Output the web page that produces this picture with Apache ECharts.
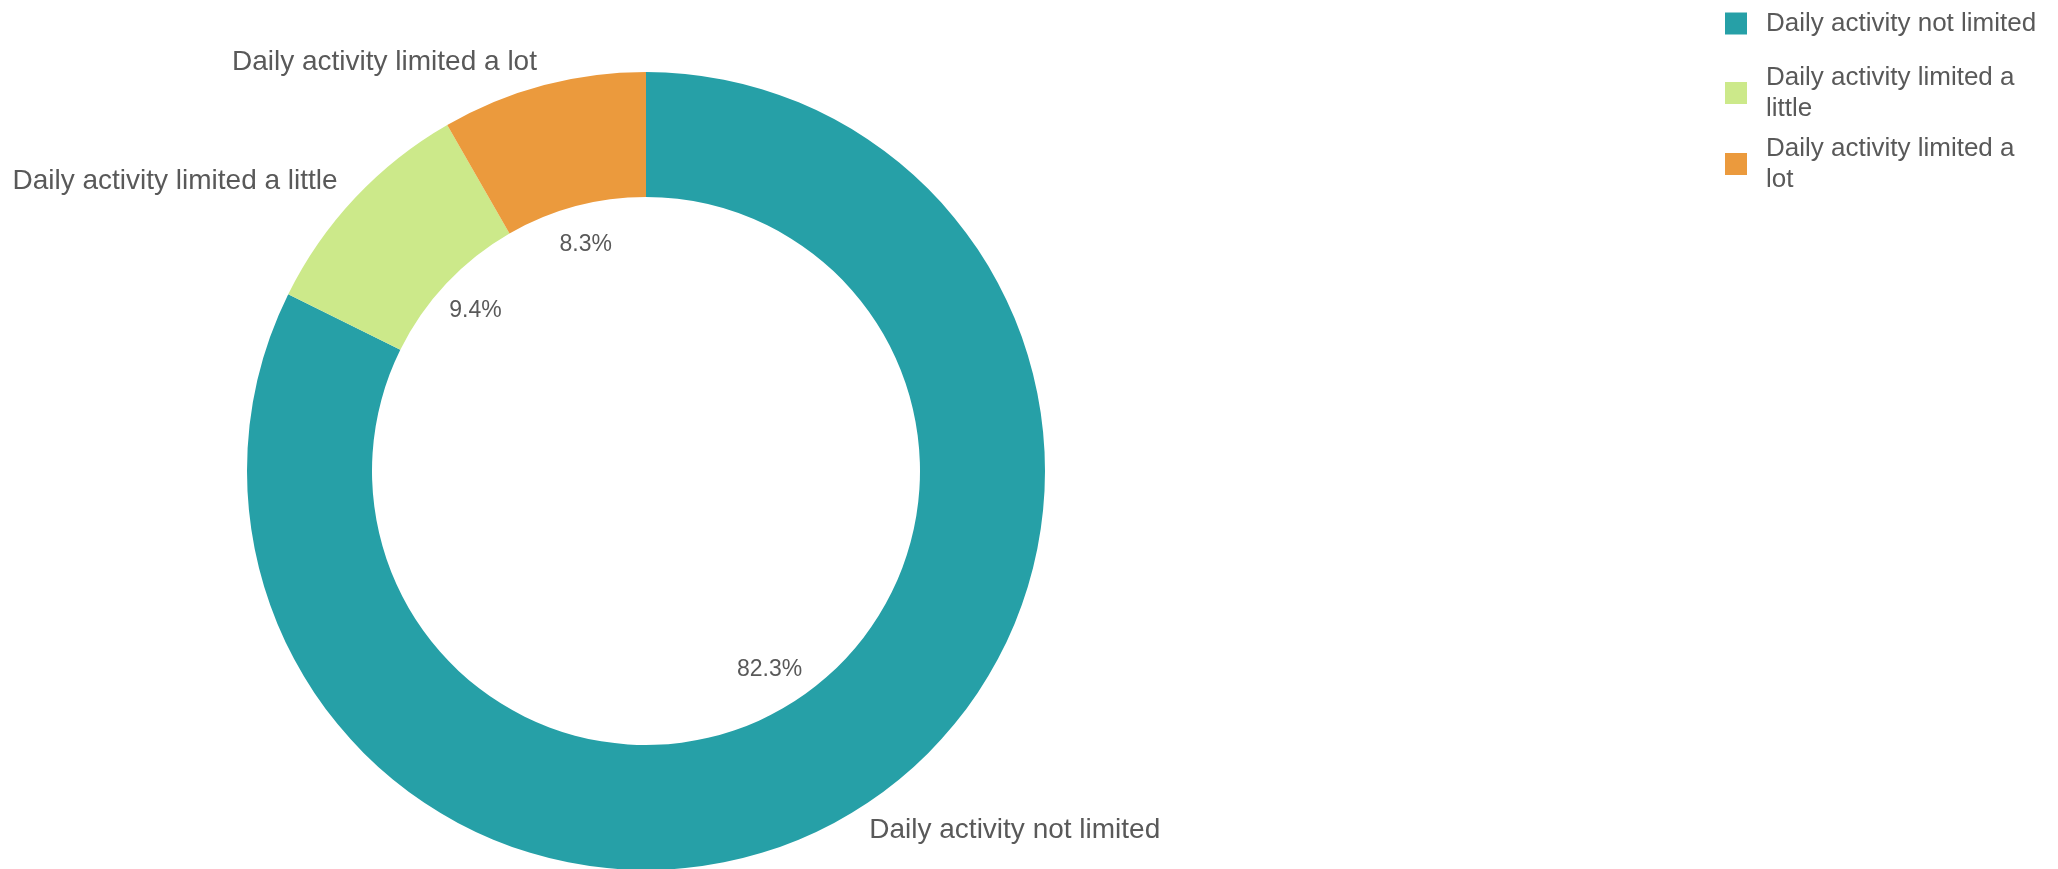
<!DOCTYPE html>
<html>
<head>
<meta charset="utf-8">
<script src="https://cdn.jsdelivr.net/npm/echarts@6/dist/echarts.min.js"></script>
<style>
html,body{margin:0;padding:0;background:#fff;}
#chart{width:2058px;height:869px;}
</style>
</head>
<body>
<div id="chart"></div>
<script>
const categories = ['Daily activity not limited', 'Daily activity limited a little', 'Daily activity limited a lot'];
const percentValues = [82.3, 9.4, 8.3];
const sliceColors = ['#26a0a7', '#cce98a', '#eb9a3d'];

const FONT = '"Liberation Sans", Arial, sans-serif';
const TEXT = '#595959';

const pieData = categories.map((name, i) => ({
  name: name,
  value: percentValues[i],
  itemStyle: { color: sliceColors[i] }
}));

function makeLegend(idx, top) {
  return {
    show: true,
    orient: 'vertical',
    left: 1725,
    top: top,
    padding: 0,
    icon: 'rect',
    itemWidth: 22,
    itemHeight: 22,
    selectedMode: false,
    data: [{ name: categories[idx], itemStyle: { color: sliceColors[idx] } }],
    textStyle: {
      fontFamily: FONT,
      fontSize: 26,
      color: TEXT,
      width: 280,
      overflow: 'break',
      lineHeight: 31,
      padding: [0, 0, 0, 14]
    }
  };
}

const chart = echarts.init(document.getElementById('chart'), null, { renderer: 'canvas' });
chart.setOption({
  backgroundColor: '#ffffff',
  animation: false,
  legend: [makeLegend(0, 8), makeLegend(1, 62), makeLegend(2, 133)],
  series: [
    {
      type: 'pie',
      center: [646, 471],
      radius: [274, 399],
      startAngle: 90,
      clockwise: true,
      avoidLabelOverlap: false,
      silent: true,
      data: pieData,
      label: {
        show: true,
        position: 'outside',
        formatter: '{b}',
        fontFamily: FONT,
        fontSize: 28,
        color: TEXT,
        distanceToLabelLine: 0
      },
      labelLine: { show: false, length: 24, length2: 0 },
      itemStyle: { borderWidth: 0 }
    },
    {
      type: 'pie',
      center: [646, 471],
      radius: [196, 266],
      startAngle: 90,
      clockwise: true,
      avoidLabelOverlap: false,
      silent: true,
      legendHoverLink: false,
      data: pieData.map(d => ({ name: d.name, value: d.value, itemStyle: { color: 'rgba(0,0,0,0)' } })),
      label: {
        show: true,
        position: 'inside',
        formatter: p => p.value.toFixed(1) + '%',
        fontFamily: FONT,
        fontSize: 23,
        color: TEXT
      },
      labelLine: { show: false }
    }
  ]
});
</script>
</body>
</html>
